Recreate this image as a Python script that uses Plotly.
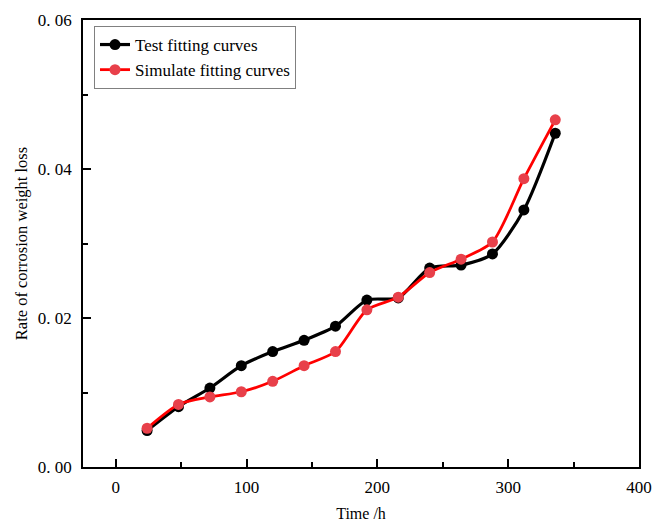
import plotly.graph_objects as go

time_h = [24, 48, 72, 96, 120, 144, 168, 192, 216, 240, 264, 288, 312, 336]
test_vals = [0.0049, 0.0081, 0.0106, 0.0136, 0.0155, 0.0170, 0.0189, 0.0224,
             0.0227, 0.0267, 0.0271, 0.0286, 0.0345, 0.0448]
sim_vals = [0.0052, 0.0084, 0.0094, 0.0101, 0.0115, 0.0136, 0.0155, 0.0211,
            0.0228, 0.0261, 0.0279, 0.0302, 0.0387, 0.0466]
y_tickvals = [0.0, 0.02, 0.04, 0.06]
y_ticktext = ["0. 00", "0. 02", "0. 04", "0. 06"]
x_tickvals = [0, 100, 200, 300, 400]

FONT = "Liberation Serif"

fig = go.Figure()
fig.add_trace(go.Scatter(
    x=time_h, y=test_vals, mode="lines+markers", name="Test fitting curves",
    line=dict(color="black", width=3.2, shape="spline", smoothing=0.7),
    marker=dict(color="black", size=11),
))
fig.add_trace(go.Scatter(
    x=time_h, y=sim_vals, mode="lines+markers", name="Simulate fitting curves",
    line=dict(color="#ff0000", width=2.8, shape="spline", smoothing=0.7),
    marker=dict(color="#e8404a", size=11),
))

axis_common = dict(
    showline=True, linecolor="black", linewidth=1.5, mirror=True,
    ticks="inside", ticklen=8, tickwidth=1.5, tickcolor="black",
    showgrid=False, zeroline=False, automargin=False,
    tickfont=dict(family=FONT, size=17, color="black"),
)

fig.update_layout(
    width=654, height=526,
    margin=dict(l=83, r=15, t=20, b=59),
    paper_bgcolor="white", plot_bgcolor="white",
    font=dict(family=FONT, color="black"),
    xaxis=dict(
        range=[-25, 400], tickvals=x_tickvals,
        minor=dict(ticks="inside", dtick=50, tick0=0, ticklen=5, tickwidth=1.5, tickcolor="black"),
        title=dict(text="Time /h", font=dict(family=FONT, size=16), standoff=12),
        ticklabelstandoff=4,
        **axis_common,
    ),
    yaxis=dict(
        range=[0, 0.06], tickvals=y_tickvals, ticktext=y_ticktext,
        minor=dict(ticks="inside", dtick=0.01, tick0=0, ticklen=5, tickwidth=1.5, tickcolor="black"),
        title=dict(text="Rate of corrosion weight loss", font=dict(family=FONT, size=16.5), standoff=6),
        ticklabelstandoff=6,
        **axis_common,
    ),
    legend=dict(
        x=0.0198, y=0.9866, xanchor="left", yanchor="top",
        bordercolor="#808080", borderwidth=1, bgcolor="white",
        font=dict(family=FONT, size=17, color="black"),
        tracegroupgap=0, itemwidth=30,
    ),
)

fig.write_html(
    "out.html",
    config={"displayModeBar": False},
    post_script="document.body.style.margin='0';document.body.style.overflow='hidden';",
)
